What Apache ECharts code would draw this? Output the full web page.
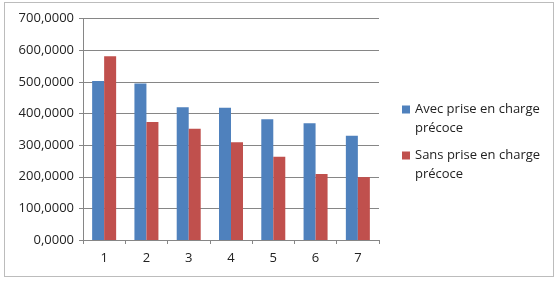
<!DOCTYPE html>
<html>
<head>
<meta charset="utf-8">
<script src="https://cdn.jsdelivr.net/npm/echarts@6/dist/echarts.min.js"></script>
<style>
html,body{margin:0;padding:0;background:#fff;}
#frame{position:absolute;left:4px;top:2px;width:550px;height:275px;border:1px solid #bcbcbc;box-sizing:border-box;}
#chart{position:absolute;left:0;top:0;width:558px;height:282px;}
</style>
</head>
<body>
<div id="frame"></div>
<div id="chart"></div>
<script>
const categories = ['1','2','3','4','5','6','7'];
const seriesNames = ['Avec prise en charge précoce', 'Sans prise en charge précoce'];
const avecValues = [503, 495, 420, 418, 382, 369, 330];
const sansValues = [581, 373, 352, 309, 263, 209, 199];

const chart = echarts.init(document.getElementById('chart'), null, {renderer:'canvas'});
const font = 'Open Sans';
const legendText = {fontFamily: font, fontSize: 13, color: '#222', lineHeight: 19};
const wrap = n => ' \n' + n.replace('charge ', 'charge\n');
chart.setOption({
  animation: false,
  backgroundColor: 'transparent',
  grid: {left: 83, right: 179, top: 18.7, bottom: 42},
  legend: [
    {data: [seriesNames[0]], left: 402, top: 81, padding: 0, itemWidth: 8, itemHeight: 8,
     icon: 'rect', formatter: wrap, textStyle: legendText},
    {data: [seriesNames[1]], left: 402, top: 127, padding: 0, itemWidth: 8, itemHeight: 8,
     icon: 'rect', formatter: wrap, textStyle: legendText}
  ],
  xAxis: {
    type: 'category', data: categories,
    axisLine: {lineStyle: {color: '#868686'}},
    axisTick: {show: true, length: 4, lineStyle: {color: '#868686'}},
    axisLabel: {fontFamily: font, fontSize: 13, color: '#222', margin: 12}
  },
  yAxis: {
    type: 'value', min: 0, max: 700, interval: 100,
    axisLine: {show: true, lineStyle: {color: '#868686'}},
    axisTick: {show: true, length: 4, lineStyle: {color: '#868686'}},
    splitLine: {lineStyle: {color: '#868686'}},
    axisLabel: {fontFamily: font, fontSize: 13, color: '#222', margin: 9,
      formatter: v => v.toFixed(4).replace('.', ',')}
  },
  series: [
    {name: seriesNames[0], type: 'bar', data: avecValues, barWidth: 12, barGap: '0%',
     itemStyle: {color: '#4F81BD'}},
    {name: seriesNames[1], type: 'bar', data: sansValues, barWidth: 12, barGap: '0%',
     itemStyle: {color: '#C0504D'}}
  ]
});
</script>
</body>
</html>
